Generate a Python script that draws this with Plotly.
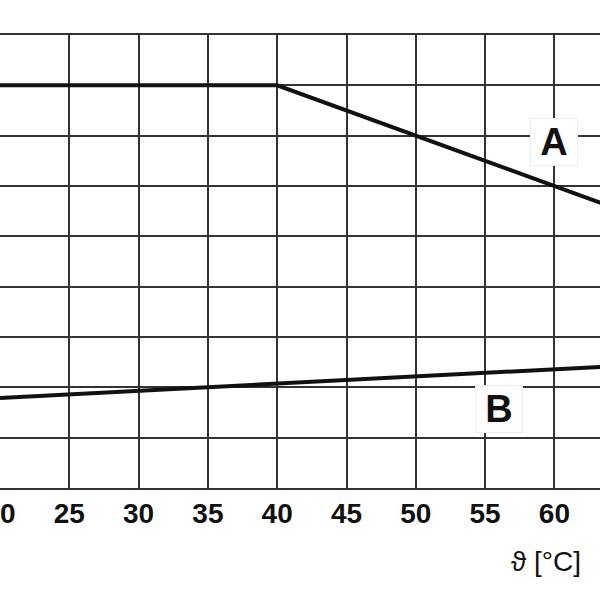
import plotly.graph_objects as go

# Data
temp_A = [20, 40, 70]
val_A = [8.0, 8.0, 5.0]
temp_B = [20, 70]
val_B = [1.79, 2.5]
x_ticks = [20, 25, 30, 35, 40, 45, 50, 55, 60, 65]
y_ticks = [0, 1, 2, 3, 4, 5, 6, 7, 8, 9]
label_A = ("A", 60, 6.87)
label_B = ("B", 56.0, 1.57)

fig = go.Figure()
fig.add_trace(go.Scatter(x=temp_A, y=val_A, mode="lines",
                         line=dict(color="#111111", width=4), showlegend=False))
fig.add_trace(go.Scatter(x=temp_B, y=val_B, mode="lines",
                         line=dict(color="#111111", width=4), showlegend=False))

for txt, xv, yv in (label_A, label_B):
    fig.add_annotation(x=xv, y=yv, xref="x", yref="y", text=txt, showarrow=False,
                       font=dict(family="Liberation Sans, Arial", size=38, color="#111111", weight="bold"),
                       bgcolor="white", bordercolor="#eeeeee", borderwidth=1,
                       width=44, height=44, align="center", valign="middle")

fig.add_annotation(x=0.91, y=-0.162, xref="paper", yref="paper", text="ϑ [°C]",
                   xanchor="center", yanchor="middle",
                   showarrow=False, font=dict(family="Liberation Sans, Arial", size=28, color="#111111"))

fig.update_layout(
    width=600, height=600,
    margin=dict(l=0, r=0, t=35, b=112),
    paper_bgcolor="white", plot_bgcolor="white",
    xaxis=dict(range=[20, 63.29], tickvals=x_ticks, showgrid=True, gridcolor="#333333", gridwidth=1.6,
               zeroline=False, showline=True, linecolor="#333333", linewidth=1.6, mirror=True,
               ticks="outside", ticklen=0, tickcolor="rgba(0,0,0,0)", automargin=False,
               ticklabeloverflow="allow",
               tickfont=dict(family="Liberation Sans, Arial", size=28, color="#111111", weight="bold")),
    yaxis=dict(range=[0, 9], tickvals=y_ticks, showgrid=True, gridcolor="#333333", gridwidth=1.6,
               zeroline=False, showticklabels=False, showline=False, automargin=False),
)

fig.write_html("out.html")
